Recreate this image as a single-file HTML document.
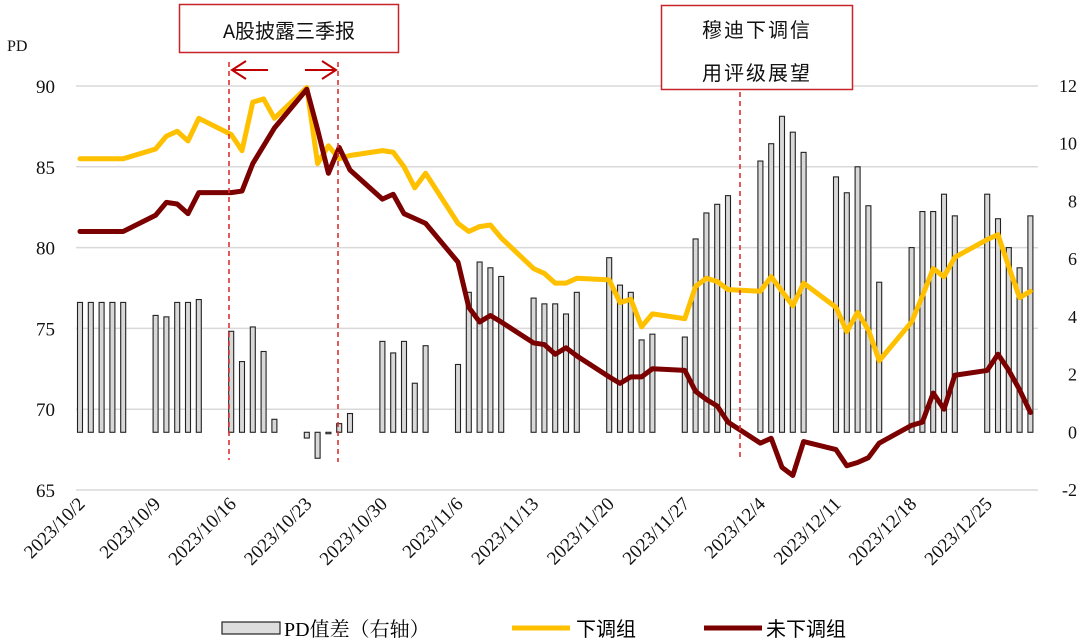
<!DOCTYPE html>
<html><head><meta charset="utf-8"><style>
body{margin:0;background:#fff;}
svg{display:block;font-family:"Liberation Serif","Noto Serif CJK SC",serif;}
</style></head><body>
<svg id="chart" width="1084" height="644" viewBox="0 0 1084 644">
<g id="grid"></g><g id="bars"></g><g id="lines"></g><g id="axes"></g>
<g>
<line x1="229" y1="62" x2="229" y2="460" stroke="#e03030" stroke-width="1.6" stroke-dasharray="5,4"/>
<line x1="338" y1="62" x2="338" y2="462" stroke="#e03030" stroke-width="1.6" stroke-dasharray="5,4"/>
<line x1="740" y1="92" x2="740" y2="460" stroke="#e03030" stroke-width="1.6" stroke-dasharray="5,4"/>
<g stroke="#c00000" stroke-width="2" fill="none">
<path d="M268,70 H232 M246,61 L232,70 L246,79"/>
<path d="M305,70 H336 M322,61 L336,70 L322,79"/>
</g>
<rect x="179.5" y="4.5" width="219" height="48" fill="#fff" stroke="#c8242c" stroke-width="1.5"/>
<text x="289" y="38" text-anchor="middle" font-size="20" fill="#111" font-family="Liberation Mono, Noto Sans CJK SC, sans-serif">A股披露三季报</text>
<rect x="661.5" y="5.5" width="191" height="84" fill="#fff" stroke="#c8242c" stroke-width="1.5"/>
<text x="757" y="37" text-anchor="middle" font-size="20" fill="#111" letter-spacing="2" font-family="Noto Sans CJK SC, sans-serif">穆迪下调信</text>
<text x="757" y="80" text-anchor="middle" font-size="20" fill="#111" letter-spacing="2" font-family="Noto Sans CJK SC, sans-serif">用评级展望</text>
</g>
<text x="7" y="51" font-size="16" fill="#111">PD</text>
<g font-size="20">
<g><rect x="222" y="622" width="58" height="12" fill="#ddd" stroke="#222" stroke-width="1.2"/><text x="284" y="636" font-family="Liberation Serif, Noto Serif CJK SC, serif">PD值差（右轴）</text></g>
<g><line x1="512" y1="628" x2="570" y2="628" stroke="#ffc000" stroke-width="5"/><text x="576" y="636" font-family="Noto Sans CJK SC, sans-serif">下调组</text></g>
<g><line x1="704" y1="628" x2="762" y2="628" stroke="#7b0000" stroke-width="5"/><text x="766" y="636" font-family="Noto Sans CJK SC, sans-serif">未下调组</text></g>
</g>
</svg>
<script>
const days = [0,1,2,3,4,7,8,9,10,11,14,15,16,17,18,21,22,23,24,25,28,29,30,31,32,35,36,37,38,39,42,43,44,45,46,49,50,51,52,53,56,57,58,59,60,63,64,65,66,67,70,71,72,73,74,77,78,79,80,81,84,85,86,87,88];
const diffValues = [4.5,4.5,4.5,4.5,4.5, 4.05,4.0,4.5,4.5,4.6, 3.5,2.45,3.65,2.8,0.45, -0.2,-0.9,-0.05,0.3,0.65, 3.15,2.75,3.15,1.7,3.0, 2.35,4.85,5.9,5.7,5.4, 4.65,4.45,4.45,4.1,4.85, 6.05,5.1,4.85,3.2,3.4, 3.3,6.7,7.6,7.9,8.2, 9.4,10.0,10.95,10.4,9.7, 8.85,8.3,9.2,7.85,5.2, 6.4,7.65,7.65,8.25,7.5, 8.25,7.4,6.4,5.7,7.5];
const downValues = [85.5,85.5,85.5,85.5,85.5, 86.1,86.9,87.2,86.6,88.0, 87.0,86.0,89.0,89.2,88.0, 89.9,85.2,86.3,85.5,85.7, 86.0,85.9,85.0,83.7,84.6, 81.5,81.0,81.3,81.4,80.6, 78.7,78.4,77.8,77.8,78.1, 78.0,76.6,76.8,75.1,75.9, 75.6,77.6,78.1,77.9,77.4, 77.3,78.2,77.3,76.4,77.8, 76.3,74.8,76.0,74.9,73.0, 75.4,77.0,78.7,78.2,79.4, 80.5,80.8,78.8,76.9,77.3];
const notDownValues = [81.0,81.0,81.0,81.0,81.0, 82.0,82.8,82.7,82.1,83.4, 83.4,83.5,85.2,86.3,87.4, 89.8,87.3,84.6,86.2,84.8, 83.0,83.3,82.1,81.8,81.5, 79.1,76.3,75.4,75.8,75.4, 74.1,74.0,73.4,73.8,73.3, 72.0,71.6,72.0,72.0,72.5, 72.4,71.1,70.6,70.2,69.2, 67.9,68.2,66.4,65.9,68.0, 67.5,66.5,66.7,67.0,67.9, 69.0,69.2,71.0,70.0,72.1, 72.4,73.4,72.4,71.2,69.8];
const leftTicks = [65,70,75,80,85,90];
const rightTicks = [-2,0,2,4,6,8,10,12];
const xLabelDays = [0,7,14,21,28,35,42,49,56,63,70,77,84];
const xLabels = ["2023/10/2","2023/10/9","2023/10/16","2023/10/23","2023/10/30","2023/11/6","2023/11/13","2023/11/20","2023/11/27","2023/12/4","2023/12/11","2023/12/18","2023/12/25"];

const NS="http://www.w3.org/2000/svg";
const x = d => 80 + d*10.8;
const yL = v => 86 + (90-v)*404/25;
const yR = v => 86 + (12-v)*404/14;
function mk(tag, attrs, parent){const e=document.createElementNS(NS,tag);for(const k in attrs)e.setAttribute(k,attrs[k]);parent.appendChild(e);return e;}
const grid=document.getElementById('grid'),bars=document.getElementById('bars'),lines=document.getElementById('lines'),axes=document.getElementById('axes');
leftTicks.forEach(v=>{
  const g=mk('line',{x1:76,x2:1038,y1:yL(v),y2:yL(v),stroke:'#d9d9d9','stroke-width':1.5},grid);
  
  
  const t=mk('text',{x:55,y:yL(v)+7,'text-anchor':'end','font-size':19,fill:'#111'},axes);
  t.textContent=v;
  
  
});
rightTicks.forEach(v=>{
  const t=mk('text',{x:1077,y:yR(v)+6,'text-anchor':'end','font-size':18,fill:'#111'},axes);
  t.textContent=v;
  
  
});
xLabelDays.forEach((d,i)=>{
  const tx=x(d)+6, ty=505;
  const t=mk('text',{x:tx,y:ty,'text-anchor':'end','font-size':19,fill:'#111',transform:`rotate(-45 ${tx} ${ty})`},axes);
  t.textContent=xLabels[i];
  
  
});
const y0=yR(0);
days.forEach((d,i)=>{
  const v=diffValues[i], top=Math.min(yR(v),y0), h=Math.max(Math.abs(yR(v)-y0),1);
  const r=mk('rect',{x:x(d)-2.5,y:top,width:5,height:h,fill:'#d8d8d8',stroke:'#222','stroke-width':1.1},bars);
  
  
});
function line(vals,color,name){
  const p=mk('polyline',{points:days.map((d,i)=>x(d)+','+yL(vals[i])).join(' '),fill:'none',stroke:color,'stroke-width':5,'stroke-linejoin':'round','stroke-linecap':'round'},lines);
  
  
}
line(downValues,'#ffc000','downgraded-line');
line(notDownValues,'#7b0000','not-downgraded-line');
</script>
</body></html>
